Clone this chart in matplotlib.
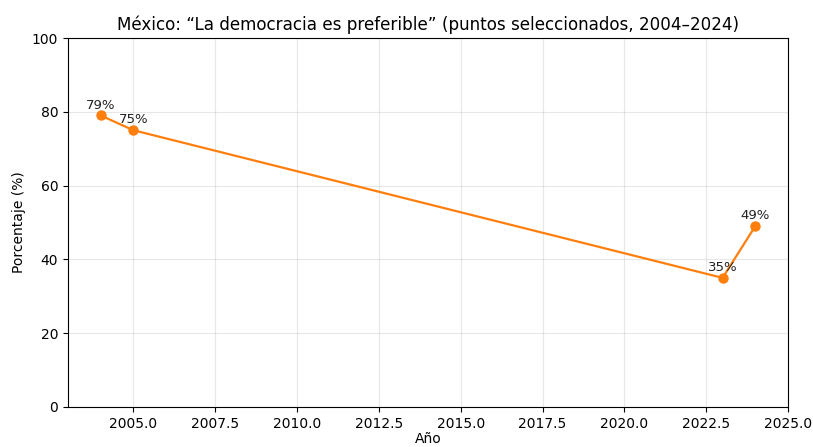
import matplotlib
matplotlib.use("Agg")
import matplotlib.pyplot as plt

years = [2004, 2005, 2023, 2024]
values = [79, 75, 35, 49]
labels = ["79%", "75%", "35%", "49%"]

fig = plt.figure(figsize=(8.13, 4.47), dpi=100)
ax = fig.add_axes([68/813, 1-407/447, (788-68)/813, (407-38)/447])
ax.plot(years, values, marker="o", color="#ff7f0e", linewidth=1.6, markersize=6.5)
for x, y, t in zip(years, values, labels):
    ax.annotate(t, (x, y), textcoords="offset points", xytext=(0, 5), ha="center", fontsize=9.5, color="#222222")
ax.set_ylim(0, 100)
ax.set_xlim(2003, 2025)
ax.grid(True, alpha=0.3)
ax.tick_params(labelsize=10)
ax.set_title("México: “La democracia es preferible” (puntos seleccionados, 2004–2024)", fontsize=12.1)
ax.set_xlabel("Año", labelpad=1)
ax.set_ylabel("Porcentaje (%)")
fig.savefig("out.png", dpi=100)
